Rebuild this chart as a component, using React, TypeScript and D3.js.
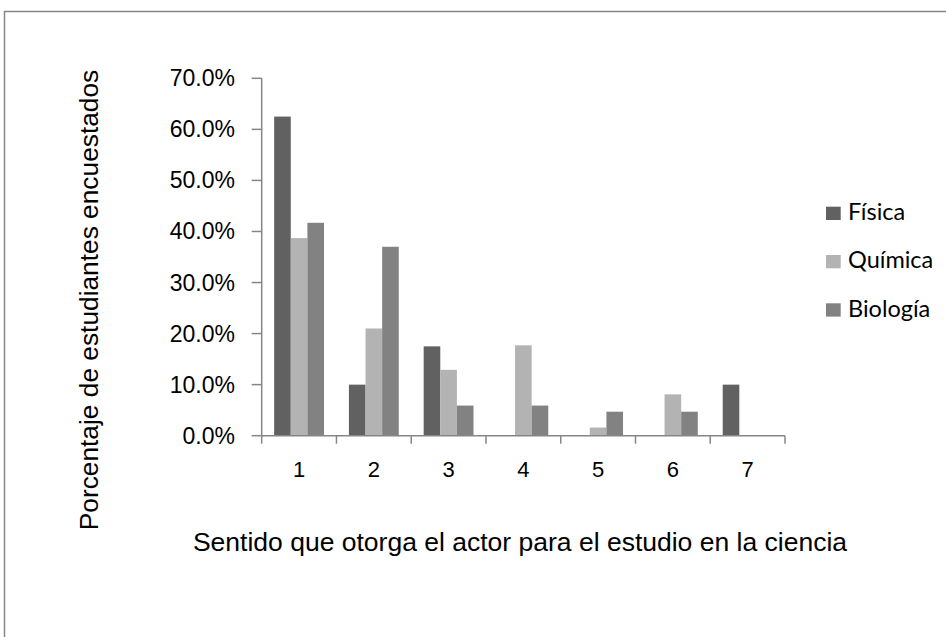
import React from "react";
import * as d3 from "d3";

const categories = ["1", "2", "3", "4", "5", "6", "7"];
const seriesNames = ["Física", "Química", "Biología"];
const fisica = [62.5, 10.0, 17.5, 0, 0, 0, 10.0];
const quimica = [38.7, 21.0, 12.9, 17.7, 1.6, 8.1, 0];
const biologia = [41.7, 37.0, 5.9, 5.9, 4.7, 4.7, 0];
const yTicks = [0, 10, 20, 30, 40, 50, 60, 70];
const colors = ["#616161", "#b3b3b3", "#828282"];

const W = 946;
const H = 637;
const left = 261.7;
const right = 785;
const top = 78.3;
const bottom = 435.7;
const axisColor = "#868686";
const font = "'Liberation Sans', Arial, sans-serif";

export default function App() {
  const seriesValues = [fisica, quimica, biologia];
  const x0 = d3.scaleBand<string>().domain(categories).range([left, right]).padding(0);
  const bw = x0.bandwidth();
  const x1 = d3
    .scaleBand<string>()
    .domain(seriesNames)
    .range([bw * (0.75 / 4.5), bw * (3.75 / 4.5)])
    .padding(0);
  const y = d3.scaleLinear().domain([0, 70]).range([bottom, top]);

  return (
    <svg
      width={W}
      height={H}
      style={{ position: "absolute", left: 0, top: 0, background: "#fff" }}
    >
      <rect x={4.5} y={11.5} width={1000} height={700} fill="#fff" stroke={axisColor} strokeWidth={1.5} />
      {/* bars */}
      {seriesNames.map((s, si) =>
        categories.map((c, ci) => {
          const v = seriesValues[si][ci];
          if (!v) return null;
          return (
            <rect
              key={s + c}
              x={(x0(c) as number) + (x1(s) as number)}
              y={y(v)}
              width={x1.bandwidth()}
              height={bottom - y(v)}
              fill={colors[si]}
            />
          );
        })
      )}
      {/* y axis */}
      <line x1={left} x2={left} y1={top} y2={bottom} stroke={axisColor} strokeWidth={1.5} />
      {yTicks.map((t) => (
        <g key={t}>
          <line x1={left - 10} x2={left} y1={y(t)} y2={y(t)} stroke={axisColor} strokeWidth={1.5} />
          <text
            x={235}
            y={y(t) + 8}
            textAnchor="end"
            fontFamily={font}
            fontSize={23}
            fill="#000"
          >
            {t.toFixed(1) + "%"}
          </text>
        </g>
      ))}
      {/* x axis */}
      <line x1={left} x2={right} y1={bottom} y2={bottom} stroke={axisColor} strokeWidth={1.5} />
      {categories.concat(["end"]).map((c, i) => {
        const xx = i < categories.length ? (x0(c) as number) : right;
        return <line key={"xt" + i} x1={xx} x2={xx} y1={bottom} y2={bottom + 8} stroke={axisColor} strokeWidth={1.5} />;
      })}
      {categories.map((c) => (
        <text
          key={"xl" + c}
          x={(x0(c) as number) + bw / 2}
          y={477}
          textAnchor="middle"
          fontFamily={font}
          fontSize={22}
          fill="#000"
        >
          {c}
        </text>
      ))}
      {/* axis titles */}
      <text
        transform={`translate(98, 300) rotate(-90)`}
        textAnchor="middle"
        fontFamily={font}
        fontSize={26.3}
        fill="#000"
      >
        Porcentaje de estudiantes encuestados
      </text>
      <text
        x={520}
        y={551}
        textAnchor="middle"
        fontFamily={font}
        fontSize={26.5}
        fill="#000"
      >
        Sentido que otorga el actor para el estudio en la ciencia
      </text>
      {/* legend */}
      {seriesNames.map((s, i) => (
        <g key={"lg" + s} transform={`translate(826, ${220 + i * 48.3})`}>
          <rect x={0} y={-13.3} width={14.7} height={13.3} fill={colors[i]} />
          <text x={22} y={0} fontFamily="Lato, 'Open Sans', sans-serif" fontSize={23.5} fill="#000">
            {s}
          </text>
        </g>
      ))}
    </svg>
  );
}
